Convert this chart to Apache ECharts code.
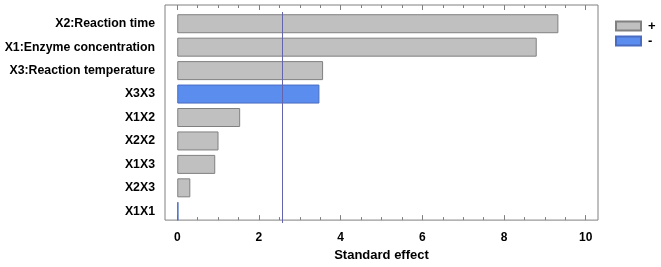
<!DOCTYPE html>
<html>
<head>
<meta charset="utf-8">
<script src="https://cdn.jsdelivr.net/npm/echarts@6/dist/echarts.min.js"></script>
<style>
  html, body { margin: 0; padding: 0; background: #fff; }
  #chart { width: 661px; height: 267px; }
</style>
</head>
<body>
<div id="chart"></div>
<script>
// factors, top to bottom
const factors = ['X2:Reaction time', 'X1:Enzyme concentration', 'X3:Reaction temperature',
  'X3X3', 'X1X2', 'X2X2', 'X1X3', 'X2X3', 'X1X1'];
// standardized effect (absolute) and sign of each effect
const effects = [9.33, 8.80, 3.57, 3.48, 1.54, 1.01, 0.93, 0.32, 0.03];
const signs = ['+', '+', '+', '-', '+', '+', '+', '+', '-'];
const critical = 2.57;
// x axis ticks
const majorTicks = [0, 2, 4, 6, 8, 10];
const minorTicks = [0, 0.5, 1, 1.5, 2, 2.5, 3, 3.5, 4, 4.5, 5, 5.5, 6, 6.5, 7, 7.5, 8, 8.5, 9, 9.5, 10];

const xMin = -0.3, xMax = 10.3;
const FONT = 'Liberation Sans, Arial, sans-serif';

const posData = effects.map((v, i) => signs[i] === '+' ? v : '-');
const negData = effects.map((v, i) => signs[i] === '-' ? v : '-');

const chart = echarts.init(document.getElementById('chart'));

const tickAxis = (pos, ticks, len, withLabels) => ({
  type: 'value', gridIndex: 1, position: pos, min: xMin, max: xMax,
  axisLine: { show: false },
  splitLine: { show: false },
  axisTick: { show: true, inside: true, length: len, customValues: ticks,
    lineStyle: { color: '#808080' } },
  axisLabel: withLabels ? {
    show: true, customValues: majorTicks, margin: 12,
    fontFamily: FONT, fontWeight: 'bold', fontSize: 12, color: '#000'
  } : { show: false },
  name: withLabels ? 'Standard effect' : '',
  nameLocation: 'middle', nameGap: 24,
  nameTextStyle: { fontFamily: FONT, fontWeight: 'bold', fontSize: 13, color: '#000' }
});

const option = {
  animation: false,
  grid: [
    { left: 165, right: 63, top: 12, bottom: 44 },
    { left: 165, right: 63, top: 5, bottom: 37, show: true,
      borderColor: '#808080', borderWidth: 1, backgroundColor: 'transparent' }
  ],
  legend: {
    orient: 'vertical', left: 610, top: 14,
    itemWidth: 25, itemHeight: 9, itemGap: 1,
    icon: 'rect',
    data: ['+', '-'],
    textStyle: { fontFamily: FONT, fontWeight: 'bold', fontSize: 13, lineHeight: 14,
      color: '#000', padding: [0, 0, 0, 2] }
  },
  xAxis: [
    { type: 'value', gridIndex: 0, min: xMin, max: xMax, show: false },
    tickAxis('bottom', majorTicks, 5, true),
    tickAxis('bottom', minorTicks, 3, false),
    tickAxis('top', majorTicks, 5, false),
    tickAxis('top', minorTicks, 3, false)
  ],
  yAxis: [
    { type: 'category', gridIndex: 0, data: factors, inverse: true,
      axisLine: { show: false }, axisTick: { show: false },
      axisLabel: { margin: 10, fontFamily: FONT, fontWeight: 'bold', fontSize: 12.3, color: '#000' } },
    { type: 'value', gridIndex: 1, show: false }
  ],
  series: [
    { name: '+', type: 'bar', xAxisIndex: 0, yAxisIndex: 0, data: posData,
      barWidth: 19, barGap: '-100%',
      itemStyle: { color: '#c0c0c0', borderColor: '#808080', borderWidth: 1 },
      markLine: {
        silent: true, symbol: 'none', label: { show: false },
        lineStyle: { color: '#6464ac', width: 1, type: 'solid' },
        data: [{ xAxis: critical }]
      }
    },
    { name: '-', type: 'bar', xAxisIndex: 0, yAxisIndex: 0, data: negData,
      barWidth: 19, barGap: '-100%',
      itemStyle: { color: '#5b8def', borderColor: '#4a6cc0', borderWidth: 1 } }
  ]
};

chart.setOption(option);
</script>
</body>
</html>
